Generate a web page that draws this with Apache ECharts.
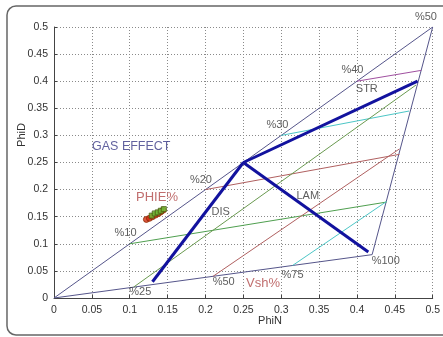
<!DOCTYPE html>
<html><head><meta charset="utf-8">
<script src="https://cdn.jsdelivr.net/npm/echarts@6/dist/echarts.min.js"></script>
<style>html,body{margin:0;padding:0;background:#fff}#c{width:443px;height:337px}</style>
</head><body><div id="c"></div>
<script>
// ---- data ----
var xTickLabels = ['0','0.05','0.1','0.15','0.2','0.25','0.3','0.35','0.4','0.45','0.5'];
var yTickLabels = ['0','0.05','0.1','0.15','0.2','0.25','0.3','0.35','0.4','0.45','0.5'];
var cleanLine = [[0,0],[0.5,0.5]];
var shaleLine = [[0,0],[0.42,0.08]];
var rightEdge = [[0.42,0.08],[0.5,0.5]];
var iso10 = [[0.1,0.1],[0.439,0.177]];
var iso20 = [[0.2,0.2],[0.456,0.265]];
var iso30 = [[0.3,0.3],[0.469,0.345]];
var iso40 = [[0.4,0.4],[0.485,0.42]];
var vsh25 = [[0.105,0.02],[0.478,0.393]];
var vsh50 = [[0.21,0.04],[0.456,0.275]];
var vsh75 = [[0.315,0.06],[0.439,0.178]];
var disLine = [[0.13,0.03],[0.25,0.25]];
var strLine = [[0.25,0.25],[0.48,0.40]];
var lamLine = [[0.25,0.25],[0.415,0.085]];
var phieRed = [[0.122,0.145],[0.126,0.147],[0.13,0.15],[0.134,0.153],[0.138,0.156],[0.141,0.159],[0.144,0.162]];
var phieGreen = [[0.129,0.152],[0.133,0.156],[0.137,0.158],[0.141,0.161],[0.145,0.164]];
var notesDark = [['%50',0.491,0.518],['%40',0.394,0.421],['STR',0.413,0.386],['%30',0.295,0.319],
  ['%20',0.194,0.218],['DIS',0.220,0.159],['%10',0.0945,0.120],['%25',0.114,0.011],['LAM',0.335,0.188],
  ['%50',0.224,0.030],['%75',0.315,0.042],['%100',0.438,0.068]];
var notesRed = [['PHIE%',0.136,0.185],['Vsh%',0.276,0.026]];
var notesBlue = [['GAS EFFECT',0.102,0.280]];

var FONT = 'Liberation Sans, Arial, sans-serif';
function seg(d, color, w){
  return {type:'line', data:d, showSymbol:false, symbol:'none', silent:true, animation:false,
    lineStyle:{color:color, width:w||1}, z:w>2?4:3};
}
function notes(arr, color, size){
  return {type:'scatter', clip:false, symbolSize:0, silent:true, animation:false, z:6,
    data: arr.map(function(n){return {name:n[0], value:[n[1],n[2]]};}),
    label:{show:true, position:'inside', formatter:'{b}', color:color, fontSize:size, fontFamily:FONT}};
}
var chart = echarts.init(document.getElementById('c'), null, {renderer:'canvas'});
chart.setOption({
  backgroundColor:'#fff',
  animation:false,
  grid:{left:54, right:8, top:27, bottom:39},
  xAxis:{type:'value', min:0, max:0.5, interval:0.05,
    axisLine:{show:true, lineStyle:{color:'#444', width:1}},
    axisTick:{show:true, inside:true, length:3, lineStyle:{color:'#444'}},
    axisLabel:{color:'#333', fontSize:10.5, fontFamily:FONT, margin:7,
      formatter:function(v){return xTickLabels[Math.round(v/0.05)];}},
    splitLine:{show:true, lineStyle:{color:'#8a8a8a', type:[1,2], width:1}}},
  yAxis:{type:'value', min:0, max:0.5, interval:0.05,
    axisLine:{show:true, lineStyle:{color:'#444', width:1}},
    axisTick:{show:true, inside:true, length:3, lineStyle:{color:'#444'}},
    axisLabel:{color:'#333', fontSize:10.5, fontFamily:FONT, margin:6,
      formatter:function(v){return yTickLabels[Math.round(v/0.05)];}},
    splitLine:{show:true, lineStyle:{color:'#8a8a8a', type:[1,2], width:1}}},
  graphic:[
    {type:'rect', shape:{x:7, y:6, width:460, height:329, r:9}, style:{fill:null, stroke:'#666', lineWidth:1.5}, silent:true},
    {type:'text', x:270, y:321, style:{text:'PhiN', fill:'#333', fontSize:11, fontFamily:FONT, textAlign:'center', textVerticalAlign:'middle'}},
    {type:'text', x:22, y:135, rotation:Math.PI/2, style:{text:'PhiD', fill:'#333', fontSize:11, fontFamily:FONT, textAlign:'center', textVerticalAlign:'middle'}}
  ],
  series:[
    seg(cleanLine,'#55558a',1), seg(shaleLine,'#55558a',1), seg(rightEdge,'#55558a',1),
    seg(iso10,'#4f9f4f',1), seg(iso20,'#b06060',1), seg(iso30,'#4cc6c6',1), seg(iso40,'#a050a0',1),
    seg(vsh25,'#6a9a50',1), seg(vsh50,'#b06060',1), seg(vsh75,'#4cc6c6',1),
    seg(disLine,'#12129e',3), seg(strLine,'#12129e',3), seg(lamLine,'#12129e',3),
    {type:'scatter', data:phieRed, symbol:'circle', symbolSize:6, silent:true, z:5,
      itemStyle:{color:'#d42a10', borderColor:'#8a2a00', borderWidth:1}},
    {type:'scatter', data:phieGreen, symbol:'rect', symbolSize:5, silent:true, z:5,
      itemStyle:{color:'#6ec23a', borderColor:'#4a5a10', borderWidth:1}},
    notes(notesDark,'#333',11), notes(notesRed,'#b04848',13), notes(notesBlue,'#3a3a86',12.5)
  ]
});
</script></body></html>
